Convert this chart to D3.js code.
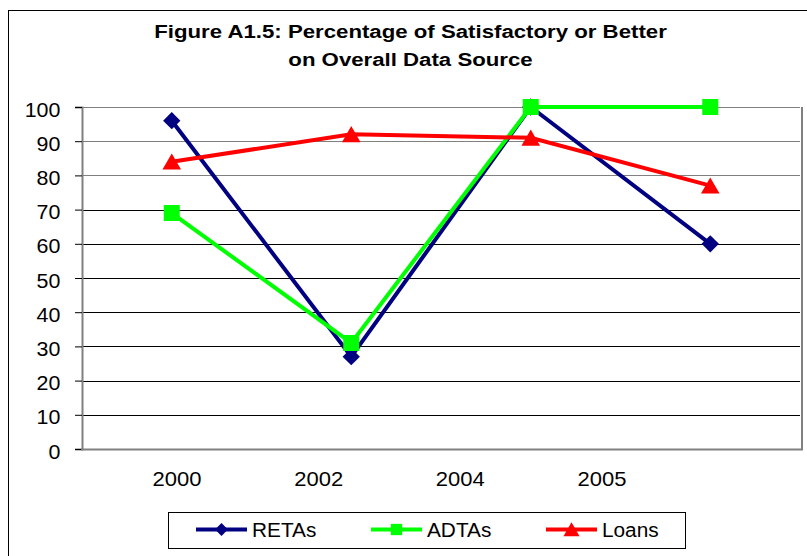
<!DOCTYPE html>
<html><head><meta charset="utf-8">
<script src="https://cdn.jsdelivr.net/npm/d3@7"></script>
<style>body{margin:0;background:#fff}svg{display:block;font-family:"Liberation Sans",Arial,sans-serif}</style>
</head><body>
<svg id="c" width="807" height="556"></svg>
<script>
const categories = ["c1","c2","c3","c4"];
const xLabels = ["2000","2002","2004","2005"];
const retas = [96, 27, 100, 60];
const adtas = [69, 31, 100, 100];
const loans = [84, 92, 91, 77];
const yTicks = [0,10,20,30,40,50,60,70,80,90,100];
const seriesNames = ["RETAs","ADTAs","Loans"];
const seriesColors = ["#000080","#00FF00","#FF0000"];

const svg = d3.select("#c");
const M = {left:82, right:800, top:107, bottom:449};
const FS = 20, SX = 1.07;

// outer frame
svg.append("rect").attr("x",8.5).attr("y",10.5).attr("width",820).attr("height",600)
  .attr("fill","none").attr("stroke","#000").attr("stroke-width",1);

// title (horizontally stretched like the original rendering)
function stretchedText(g, x, y, txt, size, bold, sx, anchor){
  return g.append("text").attr("transform",`translate(${x},${y}) scale(${sx},1)`)
    .attr("text-anchor",anchor).attr("font-size",size).attr("font-weight",bold?"bold":"normal").text(txt);
}
stretchedText(svg, 410.5, 38, "Figure A1.5: Percentage of Satisfactory or Better", 19, true, 1.17, "middle");
stretchedText(svg, 410.5, 66, "on Overall Data Source", 19, true, 1.17, "middle");

const x = d3.scaleBand().domain(categories).range([M.left, M.right]);
const y = d3.scaleLinear().domain([0,100]).range([M.bottom, M.top]);
const xl = d3.scalePoint().domain(xLabels).range([177, 602]);

// gridlines
svg.append("g").selectAll("line").data(yTicks.filter(d=>d>0)).join("line")
  .attr("x1",M.left).attr("x2",M.right)
  .attr("y1",d=>Math.round(y(d))+0.5).attr("y2",d=>Math.round(y(d))+0.5)
  .attr("stroke",d=>d>=80?"#808080":"#000").attr("stroke-width",1);

// plot border right
svg.append("line").attr("x1",M.right+2).attr("x2",M.right+2).attr("y1",M.top).attr("y2",M.bottom+1)
  .attr("stroke","#808080").attr("stroke-width",2);

// y axis
const ya = svg.append("g").attr("transform",`translate(${M.left},0)`)
  .call(d3.axisLeft(y).tickValues(yTicks).tickSize(7).tickPadding(12));
ya.select(".domain").attr("stroke","#808080").attr("stroke-width",2);
ya.selectAll(".tick line").attr("stroke","#000");
ya.selectAll(".tick text").attr("font-size",FS).attr("fill","#000").attr("dy","0.45em")
  .attr("font-family","Liberation Sans, Arial, sans-serif")
  .attr("transform",`translate(${-19*(SX-1)},0) scale(${SX},1)`);

// x axis line
svg.append("line").attr("x1",M.left-1).attr("x2",M.right+3).attr("y1",M.bottom+0.5).attr("y2",M.bottom+0.5)
  .attr("stroke","#808080").attr("stroke-width",2);

// x labels
const xg = svg.append("g");
xLabels.forEach(d => stretchedText(xg, xl(d), 486, d, FS, false, 1.1, "middle"));

function marker(sel, k, s){
  if(k===0) sel.attr("d",d3.symbol(d3.symbolSquare, 150*s)).attr("fill",seriesColors[0]);
  else if(k===1) sel.attr("d",d3.symbol(d3.symbolSquare, 256*s)).attr("fill",seriesColors[1]);
  else sel.attr("d",d3.symbol(d3.symbolTriangle, 150*s)).attr("fill",seriesColors[2]);
}
const rot = k => k===0 ? " rotate(45)" : "";
const dy = k => k===2 ? 2.5 : 0;

const data = [retas, adtas, loans];
const line = d3.line().x((d,i)=>x(categories[i])+x.bandwidth()/2).y(d=>y(d));
data.forEach((vals,k)=>{
  const g = svg.append("g");
  g.append("path").attr("d",line(vals)).attr("fill","none").attr("stroke",seriesColors[k]).attr("stroke-width",4);
  g.selectAll("path.m").data(vals).join("path").attr("class","m")
    .attr("transform",(d,i)=>`translate(${x(categories[i])+x.bandwidth()/2},${y(d)+dy(k)})${rot(k)}`)
    .call(marker,k,1);
});

// legend
const lg = svg.append("g");
lg.append("rect").attr("x",168.5).attr("y",512.5).attr("width",517).attr("height",36)
  .attr("fill","#fff").attr("stroke","#000").attr("stroke-width",1);
const lx = d3.scalePoint().domain(seriesNames).range([196, 546]);
const legendScale = [0.55, 0.5, 0.75];
seriesNames.forEach((n,k)=>{
  const x0 = lx(n);
  lg.append("line").attr("x1",x0).attr("x2",x0+51).attr("y1",529.5).attr("y2",529.5)
    .attr("stroke",seriesColors[k]).attr("stroke-width",4);
  lg.append("path").attr("transform",`translate(${x0+25.5},${529.5+dy(k)*0.8})${rot(k)}`)
    .call(marker,k,legendScale[k]);
  stretchedText(lg, x0+56, 537, n, FS, false, 1.04, "start");
});
</script>
</body></html>
